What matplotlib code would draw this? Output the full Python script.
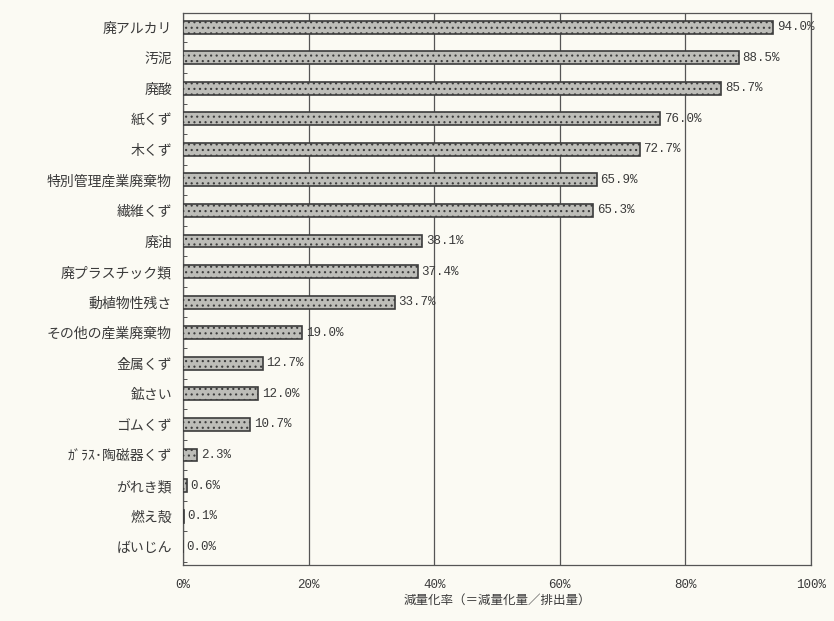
import numpy as np
import matplotlib.pyplot as plt

plt.rcParams['font.family'] = ['Noto Sans CJK JP', 'DejaVu Sans']
plt.rcParams['hatch.color'] = '#909090'
plt.rcParams['hatch.linewidth'] = 0.8

categories = ['廃アルカリ', '汚泥', '廃酸', '紙くず', '木くず', '特別管理産業廃棄物',
              '繊維くず', '廃油', '廃プラスチック類', '動植物性残さ', 'その他の産業廃棄物',
              '金属くず', '鉱さい', 'ゴムくず', 'ｶﾞﾗｽ･陶磁器くず', 'がれき類', '燃え殻', 'ばいじん']
rates = [94.0, 88.5, 85.7, 76.0, 72.7, 65.9, 65.3, 38.1, 37.4, 33.7, 19.0,
         12.7, 12.0, 10.7, 2.3, 0.6, 0.1, 0.0]
xticks = [0, 20, 40, 60, 80, 100]

bg = '#fbfaf3'
ink = '#3a3a3a'

fig = plt.figure(figsize=(8.34, 6.21), dpi=100, facecolor=bg)
ax = fig.add_axes([0.2194, 0.0902, 0.7530, 0.8888], facecolor=bg)

y = np.arange(len(categories))
ax.barh(y, rates, height=0.42, color='#bdbdb8', edgecolor='#3c3c3c', linewidth=1.2,
        hatch='...', zorder=3)

for yi, v in zip(y, rates):
    ax.text(v + 0.6, yi, '%.1f%%' % v, va='center', ha='left', fontsize=9,
            family='Liberation Mono', color=ink)

ax.set_xlim(0, 100)
ax.set_ylim(len(categories) - 0.4, -0.46)
ax.set_yticks(y)
ax.set_yticklabels(categories, fontsize=10, color=ink)
ax.set_xticks(xticks)
ax.set_xticklabels(['%d%%' % t for t in xticks], family='Liberation Mono', fontsize=9, color=ink)
ax.tick_params(axis='y', length=0, pad=8)
ax.tick_params(axis='x', length=0, pad=10)

# small marks between categories on the left axis
ax.set_yticks(y + 0.5, minor=True)
ax.tick_params(axis='y', which='minor', direction='in', length=3, color=ink)

ax.grid(axis='x', color='#555555', linewidth=0.9, zorder=0)
for s in ax.spines.values():
    s.set_color('#555555')
    s.set_linewidth(0.9)

ax.set_xlabel('減量化率（＝減量化量／排出量）', fontsize=9, color=ink, labelpad=2)

fig.savefig('out.png', dpi=100, facecolor=bg)
